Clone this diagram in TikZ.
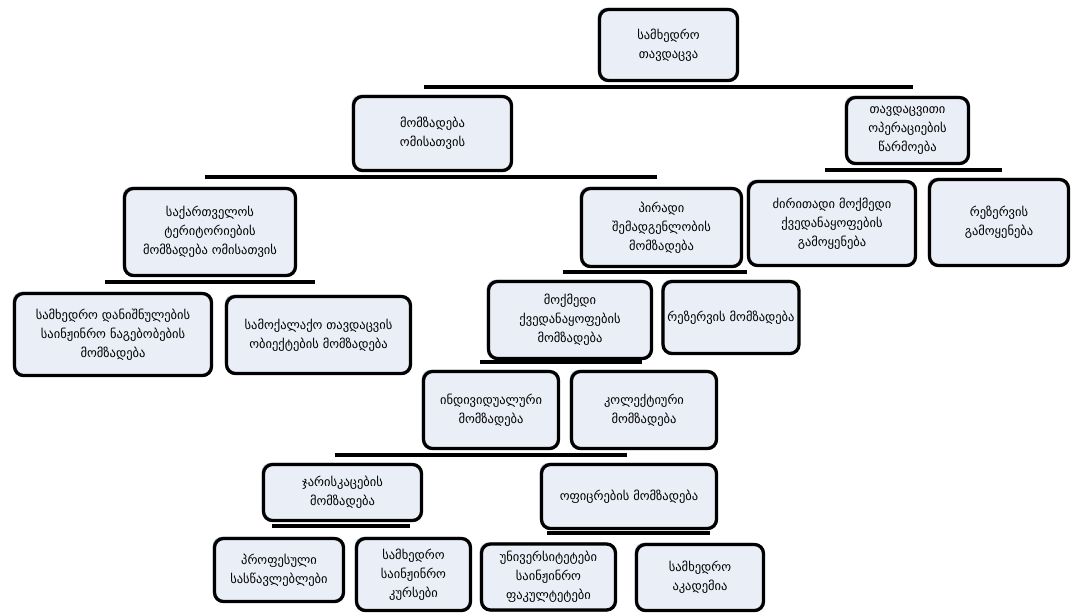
\documentclass[tikz,border=0pt]{standalone}
\usepackage{fontspec}
\newfontfamily\geo{DejaVu Sans}
\usetikzlibrary{shadows}
\definecolor{boxfill}{RGB}{234,239,247}
\definecolor{glow}{RGB}{110,130,170}
\tikzset{
  box/.style={draw=black, line width=3.3pt, rounded corners=9pt, fill=boxfill,
    align=center, inner sep=0pt, font=\geo\fontsize{12.5}{19}\selectfont,
    general shadow={shadow xshift=-1.8pt, shadow yshift=1.8pt, fill=glow, opacity=0.45},
    drop shadow={shadow xshift=0pt, shadow yshift=-1.4pt, fill=black, opacity=1}},
  bar/.style={draw=black, line width=4pt}
}
\begin{document}
\begin{tikzpicture}[x=1pt,y=-1pt]
\useasboundingbox (0,0) rectangle (1078,614);
\fill[white] (0,0) rectangle (1078,614);
% bar coordinates
\coordinate (b1l) at (424,87);  \coordinate (b1r) at (913,87);
\coordinate (b2l) at (205,177); \coordinate (b2r) at (657,177);
\coordinate (b3l) at (825,170); \coordinate (b3r) at (1002,170);
\coordinate (b4l) at (105,282); \coordinate (b4r) at (315,282);
\coordinate (b5l) at (563,272); \coordinate (b5r) at (747,272);
\coordinate (b6l) at (480,362); \coordinate (b6r) at (642,362);
\coordinate (b7l) at (335,455); \coordinate (b7r) at (627,455);
\coordinate (b8l) at (272,526); \coordinate (b8r) at (410,526);
\coordinate (b9l) at (547,533); \coordinate (b9r) at (710,533);
\draw[bar] (b1l) -- (b1r);
\draw[bar] (b2l) -- (b2r);
\draw[bar] (b3l) -- (b3r);
\draw[bar] (b4l) -- (b4r);
\draw[bar] (b5l) -- (b5r);
\draw[bar] (b6l) -- (b6r);
\draw[bar] (b7l) -- (b7r);
\draw[bar] (b8l) -- (b8r);
\draw[bar] (b9l) -- (b9r);
% boxes
\node[box, minimum width=138pt, minimum height=71pt] (top) at (668.5,45) {სამხედრო\\თავდაცვა};
\node[box, minimum width=158pt, minimum height=74pt] (war) at (432.5,133.5) {მომზადება\\ომისათვის};
\node[box, minimum width=122pt, minimum height=66pt] (ops) at (907.5,130.5) {თავდაცვითი\\ოპერაციების\\წარმოება};
\node[box, minimum width=171pt, minimum height=87pt] (terr) at (210,232) {საქართველოს\\ტერიტორიების\\მომზადება ომისათვის};
\node[box, minimum width=160pt, minimum height=78pt] (pers) at (661.5,227.5) {პირადი\\შემადგენლობის\\მომზადება};
\node[box, minimum width=167pt, minimum height=84pt] (main) at (832,223.5) {ძირითადი მოქმედი\\ქვედანაყოფების\\გამოყენება};
\node[box, minimum width=139pt, minimum height=86pt] (resu) at (999,222.5) {რეზერვის\\გამოყენება};
\node[box, minimum width=197pt, minimum height=82pt] (meng) at (113,334.5) {სამხედრო დანიშნულების\\საინჟინრო ნაგებობების\\მომზადება};
\node[box, minimum width=184pt, minimum height=77pt] (civ) at (318.5,335) {სამოქალაქო თავდაცვის\\ობიექტების მომზადება};
\node[box, minimum width=163pt, minimum height=77pt] (act) at (570,320) {მოქმედი\\ქვედანაყოფების\\მომზადება};
\node[box, minimum width=136pt, minimum height=72pt] (resp) at (731,317.5) {რეზერვის მომზადება};
\node[box, minimum width=135pt, minimum height=77pt] (ind) at (491,410) {ინდივიდუალური\\მომზადება};
\node[box, minimum width=145pt, minimum height=77pt] (col) at (644,410) {კოლექტიური\\მომზადება};
\node[box, minimum width=158pt, minimum height=56pt] (sold) at (342.5,492.5) {ჯარისკაცების\\მომზადება};
\node[box, minimum width=175pt, minimum height=64pt] (off) at (629,496.5) {ოფიცრების მომზადება};
\node[box, minimum width=129pt, minimum height=63pt] (prof) at (279,570) {პროფესული\\სასწავლებლები};
\node[box, minimum width=114pt, minimum height=72pt] (crs) at (413.5,574.5) {სამხედრო\\საინჟინრო\\კურსები};
\node[box, minimum width=134pt, minimum height=66pt] (uni) at (548.5,577) {უნივერსიტეტები\\საინჟინრო\\ფაკულტეტები};
\node[box, minimum width=127pt, minimum height=66pt] (acad) at (700,577.5) {სამხედრო\\აკადემია};
\end{tikzpicture}
\end{document}
